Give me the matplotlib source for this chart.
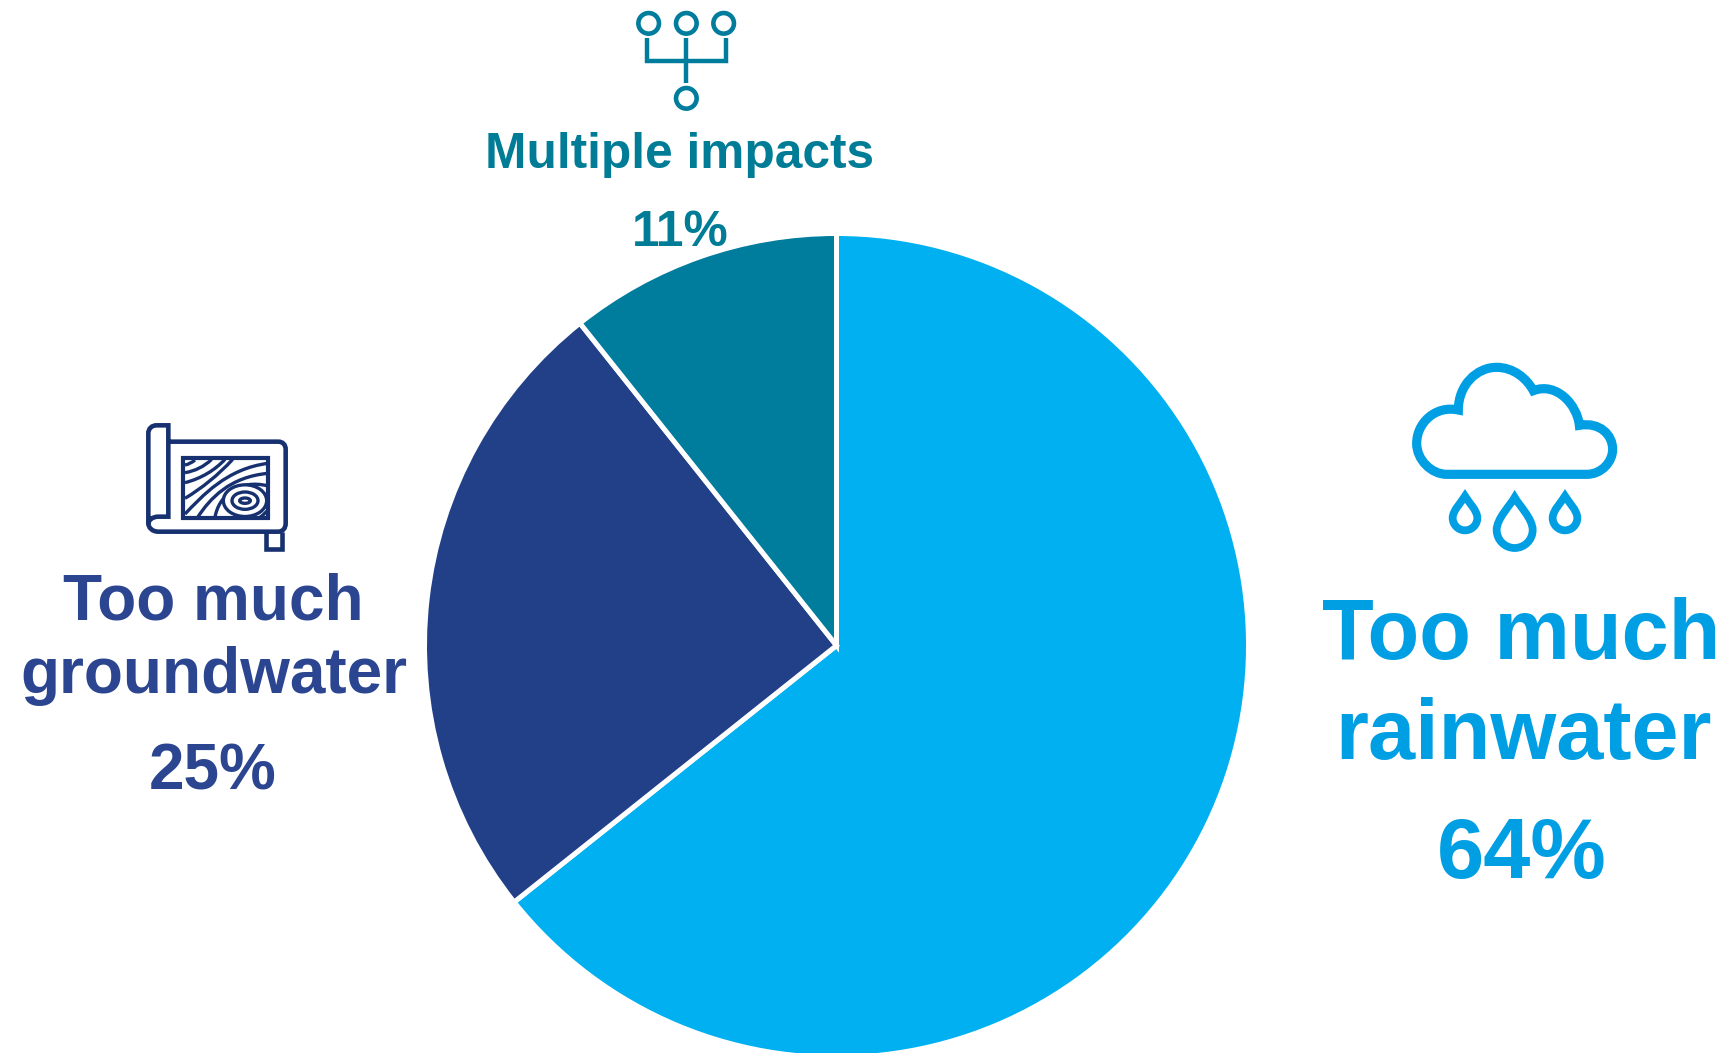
import matplotlib
matplotlib.use('Agg')
import matplotlib.pyplot as plt
from matplotlib.path import Path
from matplotlib.patches import PathPatch, Circle, Rectangle, Ellipse

plt.rcParams['font.family'] = ['Liberation Sans', 'DejaVu Sans']

# 数据
categories = ['Too much\nrainwater', 'Too much\ngroundwater', 'Multiple impacts']
shares = [64.3, 25.0, 10.7]
colors = ['#00B0F0', '#224088', '#007C9C']
text_colors = ['#009FE3', '#2B4590', '#007C97']

W, H = 1731, 1053
fig = plt.figure(figsize=(W / 100, H / 100), dpi=100, facecolor='white')

# 饼图
cx, cy, R = 836.5, 645.5, 412.0
ax = fig.add_axes([(cx - R) / W, 1 - (cy + R) / H, 2 * R / W, 2 * R / H])
ax.pie(shares, colors=colors, startangle=90, counterclock=False, radius=1,
       wedgeprops={'edgecolor': 'white', 'linewidth': 3.6})
ax.set_xlim(-1, 1)
ax.set_ylim(-1, 1)

# 覆盖层, 用像素坐标放文字和图标
ov = fig.add_axes([0, 0, 1, 1], facecolor='none')
ov.set_xlim(0, W)
ov.set_ylim(H, 0)
ov.axis('off')


def label(x, y, s, size, color):
    ov.text(x, y, s, fontsize=size, color=color, fontweight='bold',
            ha='center', va='baseline')


name_r = categories[0].split('\n')
name_g = categories[1].split('\n')
label(1521.5, 659.5, name_r[0], 61, text_colors[0])
label(1524, 759.5, name_r[1], 61, text_colors[0])
label(1522, 878, f'{round(shares[0])}%', 61, text_colors[0])
label(213.5, 619, name_g[0], 46, text_colors[1])
label(213.5, 692.5, name_g[1], 46, text_colors[1])
label(213, 789, f'{round(shares[1])}%', 46, text_colors[1])
label(680, 168, categories[2], 35.7, text_colors[2])
label(680, 245.5, f'{round(shares[2])}%', 35.7, text_colors[2])


def curve(points, ox, oy, color, lw, close=False, fill='none', z=3):
    # points: 第一个是起点, 后面 (c1, c2, end) 或 单点直线
    verts = [(ox + points[0][0] / 3, oy + points[0][1] / 3)]
    codes = [Path.MOVETO]
    for p in points[1:]:
        if len(p) == 3:
            for q in p:
                verts.append((ox + q[0] / 3, oy + q[1] / 3))
                codes.append(Path.CURVE4)
        else:
            verts.append((ox + p[0] / 3, oy + p[1] / 3))
            codes.append(Path.LINETO)
    if close:
        verts.append(verts[0])
        codes.append(Path.CLOSEPOLY)
    ov.add_patch(PathPatch(Path(verts, codes), facecolor=fill, edgecolor=color,
                           lw=lw, zorder=z, capstyle='butt', joinstyle='miter'))


# 图标: 多重影响
teal = '#007C9C'
for x, y in [(146, 70), (259, 70), (371, 70), (259, 295)]:
    ov.add_patch(Circle((600 + x / 3, y / 3), 10.3, fc='none', ec=teal, lw=3.3))
curve([(141, 115), (141, 183), (378, 183), (378, 115)], 600, 0, teal, 3.2)
curve([(259, 115), (259, 248)], 600, 0, teal, 3.2)

# 图标: 地图
navy = '#17306F'
ox, oy = 130, 410
curve([(115, 95), (445, 95), ((458, 95), (467, 104), (467, 118)), (467, 340),
       ((467, 355), (458, 365), (445, 365)), (85, 365),
       ((66, 365), (55, 352), (55, 340)), (55, 70),
       ((55, 55), (66, 46), (80, 46)), (115, 46), (115, 320), (85, 320),
       ((68, 320), (55, 330), (55, 342))], ox, oy, navy, 3.3)
curve([(408, 365), (408, 418), (456, 418), (456, 365)], ox, oy, navy, 3.3)
ov.add_patch(Rectangle((ox + 160 / 3, oy + 145 / 3), 255 / 3, 178 / 3, fc='white', ec=navy, lw=3.0, zorder=3))
contours = [
    [(165, 165), ((175, 163), (185, 158), (195, 150))],
    [(165, 188), ((195, 183), (222, 170), (245, 148))],
    [(165, 218), ((215, 205), (255, 180), (285, 148))],
    [(165, 265), ((215, 235), (265, 195), (308, 148))],
    [(165, 312), ((215, 260), (290, 175), (415, 160))],
    [(203, 322), ((240, 265), (300, 200), (415, 190))],
    [(255, 322), ((265, 260), (325, 205), (415, 228))],
    [(390, 322), ((400, 315), (410, 305), (415, 298))],
]
for line in contours:
    curve(line, ox, oy, navy, 2.4, z=4)
for w, h, lw in [(130, 95, 2.4), (78, 52, 2.4), (32, 16, 2.4)]:
    ov.add_patch(Ellipse((ox + 345 / 3, oy + 272 / 3), w / 3, h / 3, fc='white' if w == 130 else 'none',
                         ec=navy, lw=lw, zorder=5))

# 图标: 云和雨滴
blue = '#009FE3'
ox, oy = 1390, 350
curve([(170, 373), (590, 373), ((635, 373), (668, 335), (668, 298)),
       ((668, 255), (630, 215), (568, 226)),
       ((562, 165), (500, 95), (430, 122)),
       ((410, 85), (370, 52), (320, 52)),
       ((260, 52), (205, 105), (205, 180)),
       ((135, 165), (80, 220), (80, 280)),
       ((80, 330), (125, 373), (170, 373))], ox, oy, blue, 6.6, close=True)
for x, top, hw, bottom in [(225, 438, 37, 541), (374, 442, 54, 594), (525, 438, 37, 541)]:
    c = bottom - hw
    curve([(x, top), ((x - 0.25 * hw, top + 0.25 * (c - top)), (x - hw, c - 0.35 * (c - top)), (x - hw, c)),
           ((x - hw, c + 0.55 * hw), (x - 0.55 * hw, bottom), (x, bottom)),
           ((x + 0.55 * hw, bottom), (x + hw, c + 0.55 * hw), (x + hw, c)),
           ((x + hw, c - 0.35 * (c - top)), (x + 0.25 * hw, top + 0.25 * (c - top)), (x, top))],
          ox, oy, blue, 5.6, close=True)

fig.savefig('out.png', dpi=100, facecolor='white')
